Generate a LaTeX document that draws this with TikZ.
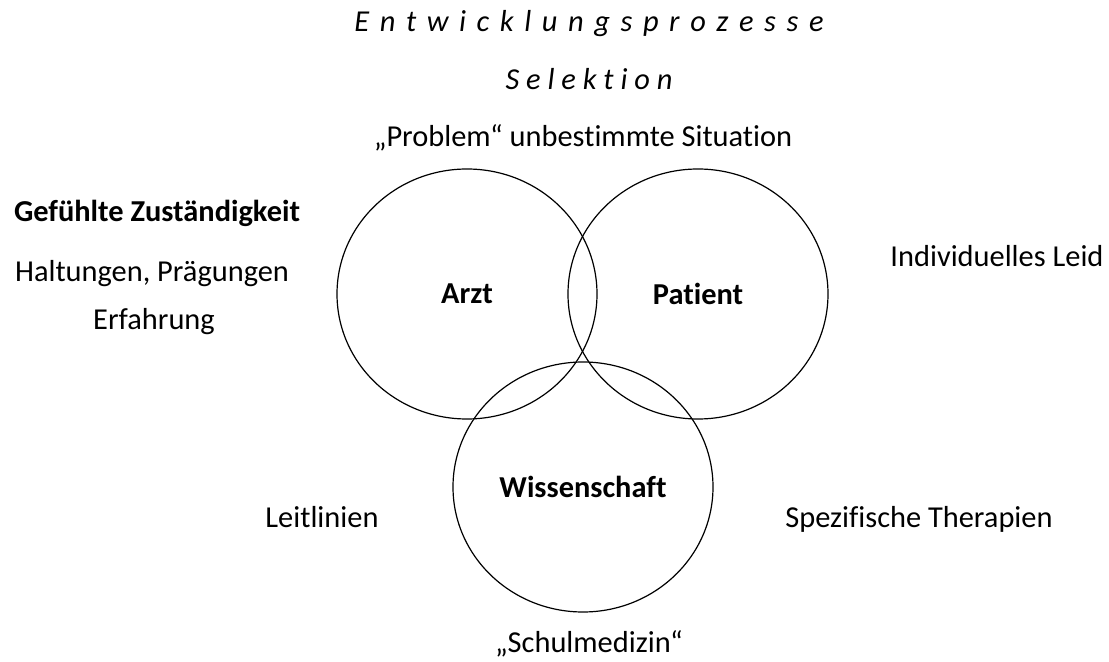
\documentclass[tikz,border=0pt]{standalone}
\usepackage{fontspec}
\setmainfont{Carlito}[Ligatures=NoCommon]
\usetikzlibrary{shapes.geometric}

\begin{document}
\begin{tikzpicture}[
                x=0.5pt, y=-0.5pt,
                every node/.style={font=\fontsize{15.2}{18}\selectfont},
                ring/.style={draw, ellipse, line width=0.6pt, inner sep=0pt,
                    minimum width=130pt, minimum height=125pt, font=\fontsize{15.2}{18}\selectfont\bfseries},
                txt/.style={anchor=base}]

                \useasboundingbox (0,0) rectangle (1109,662);

                \node[ring] (arzt) at (467,294) {Arzt};
                \node[ring] (patient) at (698,294) {Patient};
                \node[ring] (wiss) at (583,487) {Wissenschaft};

                \node[txt] (prozess) at (589,32) {\itshape\spaceskip=5.3pt\relax E n t w i c k l u n g s p r o z e s s e};
                \node[txt] (selektion) at (589,90) {\itshape S e l e k t i o n};
                \node[txt] (problem) at (583,147) {„Problem“ unbestimmte Situation};

                \node[txt, font=\fontsize{15.2}{18}\selectfont\bfseries] (zust) at (157,222) {Gefühlte Zuständigkeit};
                \node[txt] (haltung) at (152,282) {Haltungen, Prägungen};
                \node[txt] (erfahrung) at (154,330) {Erfahrung};
                \node[txt] (leid) at (997,267) {Individuelles Leid};
                \node[txt] (leitlinien) at (322,528) {Leitlinien};
                \node[txt] (therapien) at (919,528) {Spezifische Therapien};
                \node[txt] (schulmed) at (589,653) {„Schulmedizin“};

            \end{tikzpicture}
\end{document}
